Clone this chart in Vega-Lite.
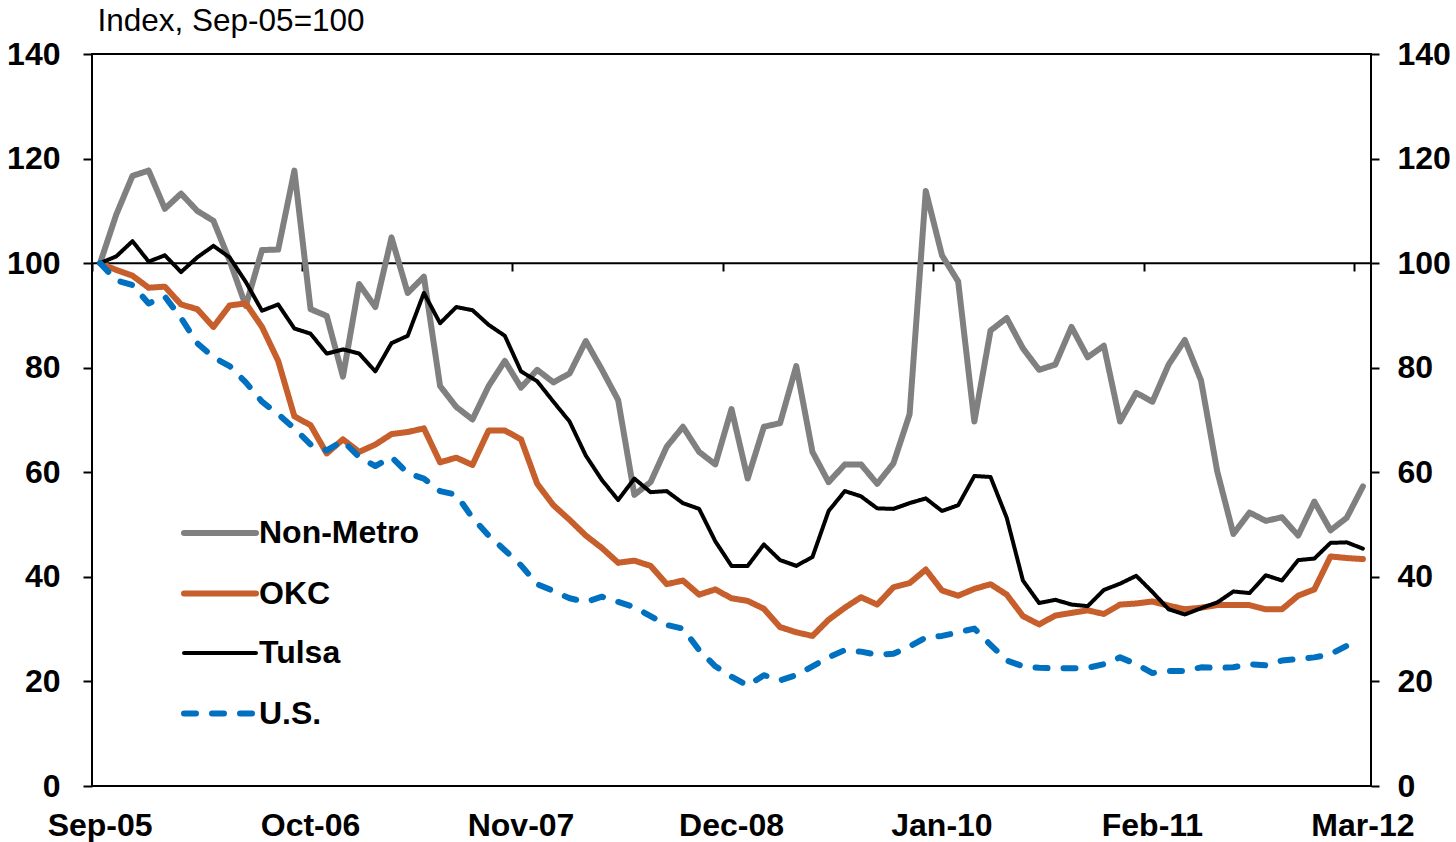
{
  "$schema": "https://vega.github.io/schema/vega-lite/v6.json",
  "width": 1279,
  "height": 732,
  "autosize": "none",
  "padding": {"left": 92, "top": 54, "right": 85, "bottom": 56},
  "background": "white",
  "config": {
    "view": {"stroke": "black", "strokeWidth": 2},
    "font": "Liberation Sans"
  },
  "datasets": {
    "series": [
      {"m":"Sep-05","Non-Metro":100,"OKC":100,"Tulsa":100,"US":100},
      {"m":"Oct-05","Non-Metro":109.3,"OKC":98.7,"Tulsa":101.3,"US":96.7},
      {"m":"Nov-05","Non-Metro":116.7,"OKC":97.6,"Tulsa":104.2,"US":95.8},
      {"m":"Dec-05","Non-Metro":117.7,"OKC":95.3,"Tulsa":100.3,"US":92.3},
      {"m":"Jan-06","Non-Metro":110.4,"OKC":95.5,"Tulsa":101.5,"US":93.6},
      {"m":"Feb-06","Non-Metro":113.3,"OKC":92.1,"Tulsa":98.3,"US":89.5},
      {"m":"Mar-06","Non-Metro":110.0,"OKC":91.2,"Tulsa":101.1,"US":84.7},
      {"m":"Apr-06","Non-Metro":108.1,"OKC":87.8,"Tulsa":103.3,"US":82.0},
      {"m":"May-06","Non-Metro":100.5,"OKC":91.9,"Tulsa":101.1,"US":80.3},
      {"m":"Jun-06","Non-Metro":91.8,"OKC":92.3,"Tulsa":96.4,"US":77.2},
      {"m":"Jul-06","Non-Metro":102.5,"OKC":87.8,"Tulsa":90.9,"US":73.5},
      {"m":"Aug-06","Non-Metro":102.6,"OKC":81.3,"Tulsa":92.1,"US":71.1},
      {"m":"Sep-06","Non-Metro":117.7,"OKC":70.7,"Tulsa":87.5,"US":68.4},
      {"m":"Oct-06","Non-Metro":91.2,"OKC":69.0,"Tulsa":86.5,"US":65.3},
      {"m":"Nov-06","Non-Metro":89.9,"OKC":63.6,"Tulsa":82.7,"US":64.2},
      {"m":"Dec-06","Non-Metro":78.3,"OKC":66.3,"Tulsa":83.5,"US":66.0},
      {"m":"Jan-07","Non-Metro":96.0,"OKC":63.9,"Tulsa":82.7,"US":62.9},
      {"m":"Feb-07","Non-Metro":91.6,"OKC":65.3,"Tulsa":79.3,"US":61.2},
      {"m":"Mar-07","Non-Metro":104.9,"OKC":67.3,"Tulsa":84.7,"US":62.9},
      {"m":"Apr-07","Non-Metro":94.3,"OKC":67.7,"Tulsa":86.1,"US":59.8},
      {"m":"May-07","Non-Metro":97.4,"OKC":68.4,"Tulsa":94.3,"US":58.8},
      {"m":"Jun-07","Non-Metro":76.5,"OKC":61.9,"Tulsa":88.5,"US":56.4},
      {"m":"Jul-07","Non-Metro":72.5,"OKC":62.8,"Tulsa":91.6,"US":55.7},
      {"m":"Aug-07","Non-Metro":70.1,"OKC":61.4,"Tulsa":91.0,"US":51.3},
      {"m":"Sep-07","Non-Metro":76.5,"OKC":68.0,"Tulsa":88.2,"US":47.9},
      {"m":"Oct-07","Non-Metro":81.3,"OKC":68.0,"Tulsa":86.1,"US":45.1},
      {"m":"Nov-07","Non-Metro":76.2,"OKC":66.3,"Tulsa":79.3,"US":42.2},
      {"m":"Dec-07","Non-Metro":79.6,"OKC":57.8,"Tulsa":77.4,"US":38.6},
      {"m":"Jan-08","Non-Metro":77.2,"OKC":53.7,"Tulsa":73.5,"US":37.3},
      {"m":"Feb-08","Non-Metro":78.9,"OKC":50.9,"Tulsa":69.7,"US":35.9},
      {"m":"Mar-08","Non-Metro":85.1,"OKC":47.9,"Tulsa":63.2,"US":35.2},
      {"m":"Apr-08","Non-Metro":79.6,"OKC":45.5,"Tulsa":58.5,"US":36.2},
      {"m":"May-08","Non-Metro":73.8,"OKC":42.7,"Tulsa":54.7,"US":35.2},
      {"m":"Jun-08","Non-Metro":55.7,"OKC":43.1,"Tulsa":58.8,"US":34.2},
      {"m":"Jul-08","Non-Metro":58.1,"OKC":42.1,"Tulsa":56.2,"US":32.5},
      {"m":"Aug-08","Non-Metro":64.9,"OKC":38.6,"Tulsa":56.4,"US":30.8},
      {"m":"Sep-08","Non-Metro":68.7,"OKC":39.3,"Tulsa":54.1,"US":30.1},
      {"m":"Oct-08","Non-Metro":63.9,"OKC":36.6,"Tulsa":53.0,"US":26.0},
      {"m":"Nov-08","Non-Metro":61.5,"OKC":37.6,"Tulsa":46.8,"US":22.9},
      {"m":"Dec-08","Non-Metro":72.1,"OKC":35.9,"Tulsa":42.1,"US":20.9},
      {"m":"Jan-09","Non-Metro":58.8,"OKC":35.4,"Tulsa":42.1,"US":19.2},
      {"m":"Feb-09","Non-Metro":68.7,"OKC":33.9,"Tulsa":46.2,"US":21.2},
      {"m":"Mar-09","Non-Metro":69.4,"OKC":30.4,"Tulsa":43.2,"US":20.2},
      {"m":"Apr-09","Non-Metro":80.3,"OKC":29.4,"Tulsa":42.1,"US":21.2},
      {"m":"May-09","Non-Metro":63.9,"OKC":28.7,"Tulsa":43.8,"US":22.9},
      {"m":"Jun-09","Non-Metro":58.1,"OKC":31.8,"Tulsa":52.6,"US":24.6},
      {"m":"Jul-09","Non-Metro":61.5,"OKC":34.1,"Tulsa":56.4,"US":26.0},
      {"m":"Aug-09","Non-Metro":61.5,"OKC":36.1,"Tulsa":55.4,"US":25.7},
      {"m":"Sep-09","Non-Metro":57.8,"OKC":34.7,"Tulsa":53.1,"US":25.1},
      {"m":"Oct-09","Non-Metro":61.7,"OKC":38.0,"Tulsa":53.0,"US":25.3},
      {"m":"Nov-09","Non-Metro":71.1,"OKC":38.8,"Tulsa":54.1,"US":26.7},
      {"m":"Dec-09","Non-Metro":113.8,"OKC":41.4,"Tulsa":55.0,"US":28.4},
      {"m":"Jan-10","Non-Metro":101.5,"OKC":37.4,"Tulsa":52.6,"US":28.7},
      {"m":"Feb-10","Non-Metro":96.5,"OKC":36.4,"Tulsa":53.7,"US":29.4},
      {"m":"Mar-10","Non-Metro":69.7,"OKC":37.7,"Tulsa":59.3,"US":30.1},
      {"m":"Apr-10","Non-Metro":87.1,"OKC":38.6,"Tulsa":59.1,"US":27.0},
      {"m":"May-10","Non-Metro":89.5,"OKC":36.6,"Tulsa":51.3,"US":24.0},
      {"m":"Jun-10","Non-Metro":83.7,"OKC":32.5,"Tulsa":39.3,"US":22.9},
      {"m":"Jul-10","Non-Metro":79.6,"OKC":30.9,"Tulsa":35.0,"US":22.6},
      {"m":"Aug-10","Non-Metro":80.6,"OKC":32.6,"Tulsa":35.6,"US":22.5},
      {"m":"Sep-10","Non-Metro":87.8,"OKC":33.1,"Tulsa":34.7,"US":22.5},
      {"m":"Oct-10","Non-Metro":82.0,"OKC":33.6,"Tulsa":34.4,"US":22.6},
      {"m":"Nov-10","Non-Metro":84.2,"OKC":32.9,"Tulsa":37.5,"US":23.3},
      {"m":"Dec-10","Non-Metro":69.7,"OKC":34.7,"Tulsa":38.7,"US":24.6},
      {"m":"Jan-11","Non-Metro":75.2,"OKC":34.9,"Tulsa":40.2,"US":23.3},
      {"m":"Feb-11","Non-Metro":73.5,"OKC":35.3,"Tulsa":37.1,"US":21.6},
      {"m":"Mar-11","Non-Metro":80.6,"OKC":34.5,"Tulsa":33.8,"US":22.0},
      {"m":"Apr-11","Non-Metro":85.3,"OKC":33.8,"Tulsa":32.8,"US":22.0},
      {"m":"May-11","Non-Metro":77.6,"OKC":34.1,"Tulsa":34.0,"US":22.7},
      {"m":"Jun-11","Non-Metro":60.2,"OKC":34.6,"Tulsa":35.1,"US":22.6},
      {"m":"Jul-11","Non-Metro":48.2,"OKC":34.6,"Tulsa":37.2,"US":22.7},
      {"m":"Aug-11","Non-Metro":52.3,"OKC":34.6,"Tulsa":36.9,"US":23.3},
      {"m":"Sep-11","Non-Metro":50.7,"OKC":33.8,"Tulsa":40.3,"US":23.1},
      {"m":"Oct-11","Non-Metro":51.4,"OKC":33.8,"Tulsa":39.3,"US":24.0},
      {"m":"Nov-11","Non-Metro":47.9,"OKC":36.4,"Tulsa":43.2,"US":24.3},
      {"m":"Dec-11","Non-Metro":54.4,"OKC":37.6,"Tulsa":43.5,"US":24.6},
      {"m":"Jan-12","Non-Metro":48.9,"OKC":43.9,"Tulsa":46.5,"US":25.2},
      {"m":"Feb-12","Non-Metro":51.3,"OKC":43.6,"Tulsa":46.6,"US":26.8},
      {"m":"Mar-12","Non-Metro":57.3,"OKC":43.4,"Tulsa":45.4}
    ],
    "ref": [{"v": 100}]
  },
  "resolve": {"scale": {"y": "shared"}, "axis": {"y": "independent"}},
  "layer": [
    {
      "data": {"name": "ref"},
      "mark": {"type": "rule", "color": "black", "strokeWidth": 2},
      "encoding": {
        "y": {
          "field": "v", "type": "quantitative",
          "scale": {"domain": [0, 140], "nice": false, "zero": true},
          "axis": {
            "orient": "right", "title": null,
            "values": [0, 20, 40, 60, 80, 100, 120, 140],
            "domain": false, "grid": false,
            "ticks": true, "tickColor": "black", "tickWidth": 2, "tickSize": 8,
            "labelPadding": 18, "labelFont": "Liberation Sans", "labelFontSize": 32,
            "labelFontWeight": "bold", "labelColor": "black", "labelAlign": "left",
            "labelBaseline": "middle", "labelBound": false, "labelOverlap": false, "labelFlush": false
          }
        }
      }
    },
    {
      "data": {"name": "series"},
      "transform": [{"fold": ["Non-Metro", "OKC", "Tulsa", "US"], "as": ["key", "value"]}],
      "mark": {"type": "line", "strokeCap": "round", "strokeJoin": "round"},
      "encoding": {
        "x": {
          "field": "m", "type": "ordinal", "sort": null,
          "scale": {"type": "band", "paddingInner": 0, "paddingOuter": 0},
          "axis": {
            "title": null,
            "values": ["Sep-05", "Oct-06", "Nov-07", "Dec-08", "Jan-10", "Feb-11", "Mar-12"],
            "bandPosition": 0,
            "offset": -523,
            "domain": false, "grid": false,
            "ticks": true, "tickColor": "black", "tickWidth": 2, "tickSize": 8,
            "labelPadding": 539, "labelOffset": 0,
            "labelFont": "Liberation Sans", "labelFontSize": 32, "labelFontWeight": "bold",
            "labelColor": "black", "labelAngle": 0, "labelBaseline": "top",
            "labelBound": false, "labelOverlap": false, "labelFlush": false
          }
        },
        "y": {
          "field": "value", "type": "quantitative",
          "scale": {"domain": [0, 140], "nice": false, "zero": true},
          "axis": {
            "orient": "left",
            "title": "Index, Sep-05=100",
            "titleAngle": 0, "titleAlign": "left", "titleBaseline": "alphabetic",
            "titleX": 5, "titleY": -24, "titleFont": "Liberation Sans", "titleFontSize": 31.5,
            "titleFontWeight": "normal", "titleColor": "black",
            "values": [0, 20, 40, 60, 80, 100, 120, 140],
            "domain": false, "grid": false,
            "ticks": true, "tickColor": "black", "tickWidth": 2, "tickSize": 9,
            "labelPadding": 23, "labelFont": "Liberation Sans", "labelFontSize": 32,
            "labelFontWeight": "bold", "labelColor": "black",
            "labelBaseline": "middle", "labelBound": false, "labelOverlap": false, "labelFlush": false
          }
        },
        "color": {
          "field": "key", "type": "nominal",
          "scale": {"domain": ["Non-Metro", "OKC", "Tulsa", "US"], "range": ["#808080", "#C65F2C", "#000000", "#0070C0"]},
          "legend": {
            "title": null, "orient": "none", "legendX": 89, "legendY": 440,
            "symbolType": "stroke", "symbolSize": 5184, "labelOffset": 0,
            "labelFont": "Liberation Sans", "labelFontSize": 32, "labelFontWeight": "bold",
            "labelColor": "black", "rowPadding": 5.5,
            "labelExpr": "datum.label == 'US' ? 'U.S.' : datum.label",
            "encode": {"symbols": {"update": {"strokeCap": {"value": "round"}}}}
          }
        },
        "strokeDash": {
          "field": "key", "type": "nominal",
          "scale": {"domain": ["Non-Metro", "OKC", "Tulsa", "US"], "range": [[1, 0], [1, 0], [1, 0], [12, 16]]}
        },
        "strokeWidth": {
          "field": "key", "type": "nominal",
          "scale": {"type": "ordinal", "domain": ["Non-Metro", "OKC", "Tulsa", "US"], "range": [6, 6, 4, 6]}
        }
      }
    }
  ]
}
